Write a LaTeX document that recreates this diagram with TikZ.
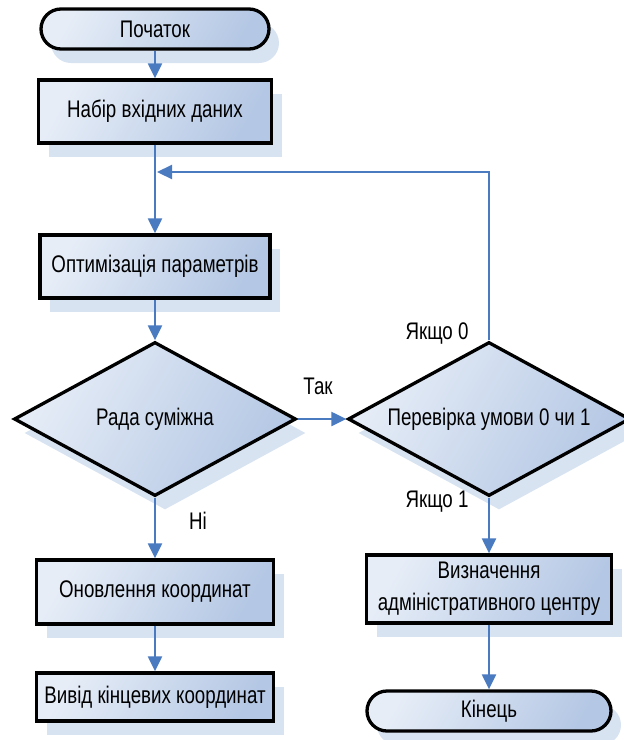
\documentclass[tikz,border=0pt]{standalone}
\usepackage{fontspec}
\setmainfont{Liberation Sans}[FakeStretch=0.78]
\usetikzlibrary{arrows.meta,shapes.geometric,shadows}
\definecolor{boxlight}{RGB}{230,237,247}
\definecolor{boxdark}{RGB}{180,199,228}
\definecolor{shadowc}{RGB}{216,227,242}
\definecolor{arrowc}{RGB}{74,122,192}
\tikzset{
  base/.style={draw=black, line width=3.3pt, inner sep=0pt, align=center,
    top color=boxlight, bottom color=boxdark, shading angle=60,
    font=\fontsize{24}{32}\selectfont,
    drop shadow={shadow xshift=10pt, shadow yshift=-14pt, fill=shadowc, opacity=1}},
  procbox/.style={base, rectangle},
  termbox/.style={base, rectangle, rounded corners=20pt},
  decbox/.style={base, diamond, minimum width=282pt, minimum height=154pt},
  arr/.style={draw=arrowc, line width=2.2pt, -{Triangle[length=15pt,width=14pt]}},
  lab/.style={font=\fontsize{24}{28}\selectfont, inner sep=0pt}
}
\begin{document}
\begin{tikzpicture}[x=1pt,y=-1pt]
\useasboundingbox (0,0) rectangle (624,740);
\node[termbox, minimum width=228pt, minimum height=40pt] (start) at (155,29) {Початок};
\node[procbox, minimum width=233pt, minimum height=63pt] (input) at (155,111.5) {Набір вхідних даних};
\node[procbox, minimum width=230pt, minimum height=63pt] (opt) at (155,266.5) {Оптимізація параметрів};
\node[decbox] (d1) at (155,419) {\makebox[0pt]{Рада суміжна}};
\node[decbox] (d2) at (489,419) {\makebox[0pt]{Перевірка умови 0 чи 1}};
\node[procbox, minimum width=237pt, minimum height=64pt] (upd) at (155,592) {Оновлення координат};
\node[procbox, minimum width=237pt, minimum height=48pt] (out) at (155,697) {Вивід кінцевих координат};
\node[procbox, minimum width=245pt, minimum height=68pt] (admin) at (489,589) {Визначення\\адміністративного центру};
\node[termbox, minimum width=244pt, minimum height=40pt] (end) at (489,711) {Кінець};

\coordinate (fb) at (157,172);

\node[lab] (tak) at (318,386) {Так};
\node[lab] (ni) at (198,521) {Ні};
\node[lab] (y0) at (437,334) {Якщо 0};
\node[lab] (y1) at (437,502) {Якщо 1};

\draw[arr] (start.south) -- (input.north);
\draw[arr] (input.south) -- (opt.north);
\draw[arr] (d2.north) |- (fb);
\draw[arr] (opt.south) -- (d1.north);
\draw[arr] (d1.east) -- (d2.west);
\draw[arr] (d1.south) -- (upd.north);
\draw[arr] (upd.south) -- (out.north);
\draw[arr] (d2.south) -- (admin.north);
\draw[arr] (admin.south) -- (end.north);
\end{tikzpicture}
\end{document}
